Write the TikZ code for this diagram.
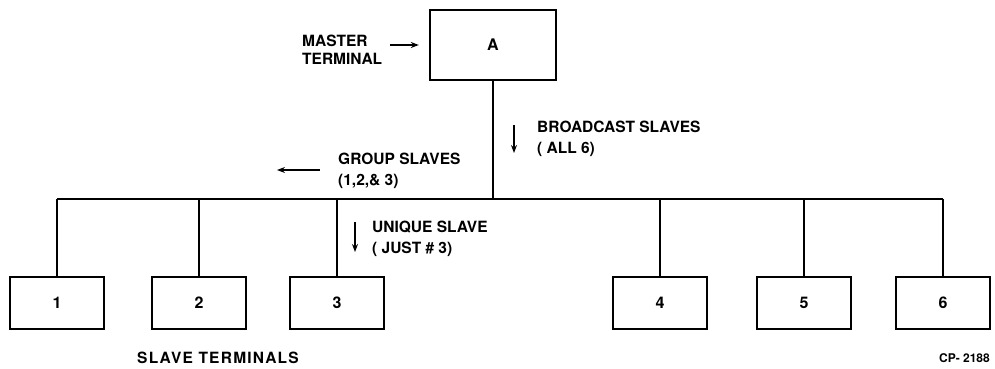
\documentclass[tikz,border=0pt]{standalone}
\usepackage{fontspec}
\setmainfont{TeX Gyre Heros}
\usetikzlibrary{arrows.meta}
\usetikzlibrary{positioning}

\begin{document}
\begin{tikzpicture}[x=1pt,y=1pt,
  termbox/.style={rectangle,draw=black,line width=2.4pt,inner sep=0pt,font=\fontsize{16}{20}\selectfont\bfseries},
  lbl/.style={font=\fontsize{15.5}{20.5}\selectfont\bfseries,text=black,inner sep=0pt,anchor=west,align=left},
  wire/.style={draw=black,line width=1.1pt},
  flow/.style={draw=black,line width=1.2pt,-{Stealth[length=8pt,width=6pt]}}]
\useasboundingbox (0,0) rectangle (995,368);

\node[termbox,minimum width=126pt,minimum height=70pt] (A) at (493,323) {A};

\node[termbox,minimum width=94pt,minimum height=52pt] (s1) at (57,65) {1};
\node[termbox,minimum width=94pt,minimum height=52pt] (s2) at (199,65) {2};
\node[termbox,minimum width=94pt,minimum height=52pt] (s3) at (337,65) {3};
\node[termbox,minimum width=94pt,minimum height=52pt] (s4) at (660,65) {4};
\node[termbox,minimum width=94pt,minimum height=52pt] (s5) at (804,65) {5};
\node[termbox,minimum width=94pt,minimum height=52pt] (s6) at (943,65) {6};

\coordinate (bus) at (493,169);
\draw[wire] (A.south) -- (bus);
\draw[wire] (s1.north |- bus) -- (s6.north |- bus);
\draw[wire] (s1.north) -- (s1.north |- bus);
\draw[wire] (s2.north) -- (s2.north |- bus);
\draw[wire] (s3.north) -- (s3.north |- bus);
\draw[wire] (s4.north) -- (s4.north |- bus);
\draw[wire] (s5.north) -- (s5.north |- bus);
\draw[wire] (s6.north) -- (s6.north |- bus);

\node[lbl,font=\fontsize{15.5}{18.5}\selectfont\bfseries] (master) at (302,318) {MASTER\\TERMINAL};
\draw[flow] (390,323) -- ([xshift=-10pt]A.west |- 0,323);

\node[lbl] (bcast) at (537,229) {BROADCAST SLAVES\\( ALL 6)};
\coordinate (bcastTop) at (514,243);
\coordinate (bcastBot) at (514,215);
\draw[flow] (bcastTop) -- (bcastBot);

\node[lbl] (group) at (338,197) {GROUP SLAVES\\(1,2,\& 3)};
\coordinate (groupR) at (320,198);
\coordinate (groupL) at (277,198);
\draw[flow] (groupR) -- (groupL);

\node[lbl] (unique) at (372,129) {UNIQUE SLAVE\\( JUST \# 3)};
\coordinate (uniqueTop) at (355,146);
\coordinate (uniqueBot) at (355,116);
\draw[flow] (uniqueTop) -- (uniqueBot);

\node[lbl,font=\fontsize{15.5}{18}\selectfont\bfseries\addfontfeature{LetterSpace=8}] (slaves) at (137,10) {SLAVE TERMINALS};
\node[lbl,font=\fontsize{12}{14}\selectfont\bfseries,anchor=east] (fig) at (990,10) {CP- 2188};

\end{tikzpicture}
\end{document}
